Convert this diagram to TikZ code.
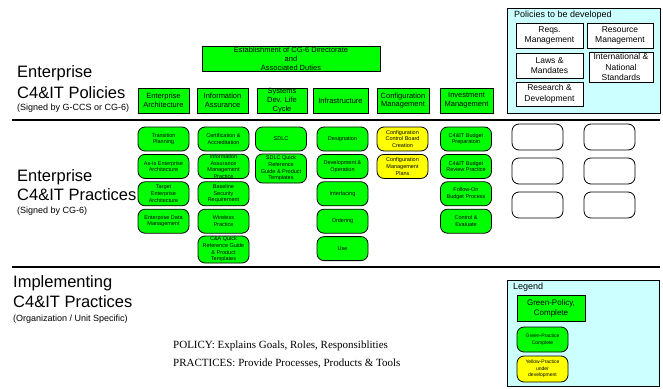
\documentclass[tikz,border=0pt]{standalone}
\usepackage{fontspec}
\setmainfont{Liberation Serif}
\setsansfont{Liberation Sans}
\newcommand{\fsz}[2]{\fontsize{#1}{#2}\selectfont}
\definecolor{polgreen}{RGB}{0,255,0}
\definecolor{pracyellow}{RGB}{255,255,0}
\definecolor{todocyan}{RGB}{204,255,255}

\begin{document}
\begin{tikzpicture}[x=1pt,y=-1pt,
	every node/.style={font=\sffamily, align=center, inner sep=0pt},
	polbox/.style={draw, fill=polgreen, line width=0.8pt, minimum width=52pt, minimum height=25pt, font=\sffamily\fsz{7.5}{8.7}},
	pracbox/.style={draw, fill=polgreen, rounded corners=7pt, line width=0.8pt, minimum width=51pt, minimum height=24pt, font=\sffamily\fsz{5.5}{6.7}},
	todobox/.style={draw, fill=white, line width=0.8pt, minimum width=67pt, minimum height=25pt, font=\sffamily\fsz{8.5}{10.5}},
	frame/.style={draw, fill=todocyan, line width=0.8pt},
	bigtitle/.style={anchor=base west, font=\sffamily\fsz{16.5}{20}},
	subtitle/.style={anchor=base west, font=\sffamily\fsz{9}{11}}]
	\useasboundingbox (0,0) rectangle (663,388);
	% left titles
	\node[bigtitle] (polA) at (17,77) {Enterprise};
	\node[bigtitle] (polB) at (17,98) {C4\&IT Policies};
	\node[subtitle] (polC) at (17,110.5) {(Signed by G-CCS or CG-6)};
	\node[bigtitle] (pracA) at (17,181) {Enterprise};
	\node[bigtitle] (pracB) at (17,200) {C4\&IT Practices};
	\node[subtitle] (pracC) at (17,213.5) {(Signed by CG-6)};
	\node[bigtitle] (implA) at (13,287) {Implementing};
	\node[bigtitle] (implB) at (13,307) {C4\&IT Practices};
	\node[subtitle] (implC) at (13,321) {(Organization / Unit Specific)};
	% separators
	\draw[line width=2.5pt] (12,120) -- (660,120);
	\draw[line width=2.5pt] (12,267) -- (660,267);
	% policies
	\node[polbox, minimum width=178pt, font=\sffamily\fsz{7.5}{9}] (cg6) at (291,58.5) {Establishment of CG-6 Directorate\\and\\Associated Duties};
	\node[polbox, minimum width=51pt] (ea) at (163.5,100.5) {Enterprise\\Architecture};
	\node[polbox, minimum width=51pt] (ia) at (222.5,100.5) {Information\\Assurance};
	\node[polbox, minimum width=50pt] (sdlc) at (282,100.5) {Systems\\Dev. Life\\Cycle};
	\node[polbox, minimum width=55pt] (infra) at (340.5,100.5) {Infrastructure};
	\node[polbox] (cm) at (403,100.5) {Configuration\\Management};
	\node[polbox, minimum width=53pt] (im) at (466.5,100.5) {Investment\\Management};
	% policies to be developed
	\node[frame, minimum width=153pt, minimum height=105pt] (todo) at (583.5,60.5) {};
	\node[anchor=west, font=\sffamily\fsz{9}{10}] (todotitle) at (514,15) {Policies to be developed};
	\node[todobox] (reqs) at (549.5,35.5) {Reqs.\\Management};
	\node[todobox, minimum width=66pt] (res) at (620,35.5) {Resource\\Management};
	\node[todobox] (laws) at (549.5,65.5) {Laws \&\\Mandates};
	\node[todobox, minimum width=64pt, minimum height=30pt] (intl) at (621,67) {International \&\\National\\Standards};
	\node[todobox, minimum height=24pt] (rnd) at (549.5,94) {Research \&\\Development};
	% practices
	\foreach \txt [count=\i] in {{Transition\\Planning}, {As-Is Enterprise\\Architecture}, {Target\\Enterprise\\Architecture}, {Enterprise Data\\Management}}
		\node[pracbox] (ea\i) at (163.5,111.6+27.4*\i) {\txt};
	\foreach \txt [count=\i] in {{Certification \&\\Accreditation}, {Information\\Assurance\\Management\\Practice}, {Baseline\\Security\\Requirement}, {Wireless\\Practice}}
		\node[pracbox] (ia\i) at (223.5,111.6+27.4*\i) {\txt};
	\node[pracbox, minimum height=27pt] (ia5) at (223.5,249.5) {C\&A Quick\\Reference Guide\\\& Product\\Templates};
	\node[pracbox] (sdlc1) at (281,139) {SDLC};
	\node[pracbox, minimum height=29pt] (sdlc2) at (281,168.5) {SDLC Quick\\Reference\\Guide \& Product\\Templates};
	\foreach \txt [count=\i] in {Designation, {Development \&\\Operation}, Interfacing, Ordering, Use}
		\node[pracbox] (infra\i) at (342.5,111.6+27.4*\i) {\txt};
	\foreach \txt [count=\i] in {{Configuration\\Control Board\\Creation}, {Configuration\\Management\\Plans}}
		\node[pracbox, fill=pracyellow] (cm\i) at (402.5,111.6+27.4*\i) {\txt};
	\foreach \txt [count=\i] in {{C4\&IT Budget\\Preparatoin}, {C4\&IT Budget\\Review Practice}, {Follow-On\\Budget Process}, {Control \&\\Evaluate}}
		\node[pracbox] (im\i) at (466,111.6+27.4*\i) {\txt};
	% empty slots
	\foreach \x [count=\c] in {537.5,609.5}
		\foreach \y [count=\r] in {137,171,205}
			\node[pracbox, fill=white, minimum height=26pt] (blank\c\r) at (\x,\y) {};
	% notes
	\node[anchor=base west, font=\rmfamily\fsz{11}{13}] (policynote) at (173,348) {POLICY: Explains Goals, Roles, Responsiblities};
	\node[anchor=base west, font=\rmfamily\fsz{11}{13}] (practicenote) at (173,366) {PRACTICES: Provide Processes, Products \& Tools};
	% legend
	\node[frame, minimum width=152pt, minimum height=106pt] (legend) at (583,333) {};
	\node[anchor=west, font=\sffamily\fsz{9}{10}] (legendtitle) at (513,287) {Legend};
	\node[polbox, minimum width=68pt, minimum height=26pt, font=\sffamily\fsz{8}{10}] (lgpol) at (551,308) {Green-Policy,\\Complete};
	\node[pracbox, minimum height=25pt, font=\sffamily\fsz{5}{6.5}] (lgprac) at (542.5,339.5) {Green-Practice\\Complete};
	\node[pracbox, fill=pracyellow, minimum height=26pt, font=\sffamily\fsz{5}{6.5}] (lgdev) at (542.5,369) {Yellow-Practice\\under\\development};
\end{tikzpicture}
\end{document}
